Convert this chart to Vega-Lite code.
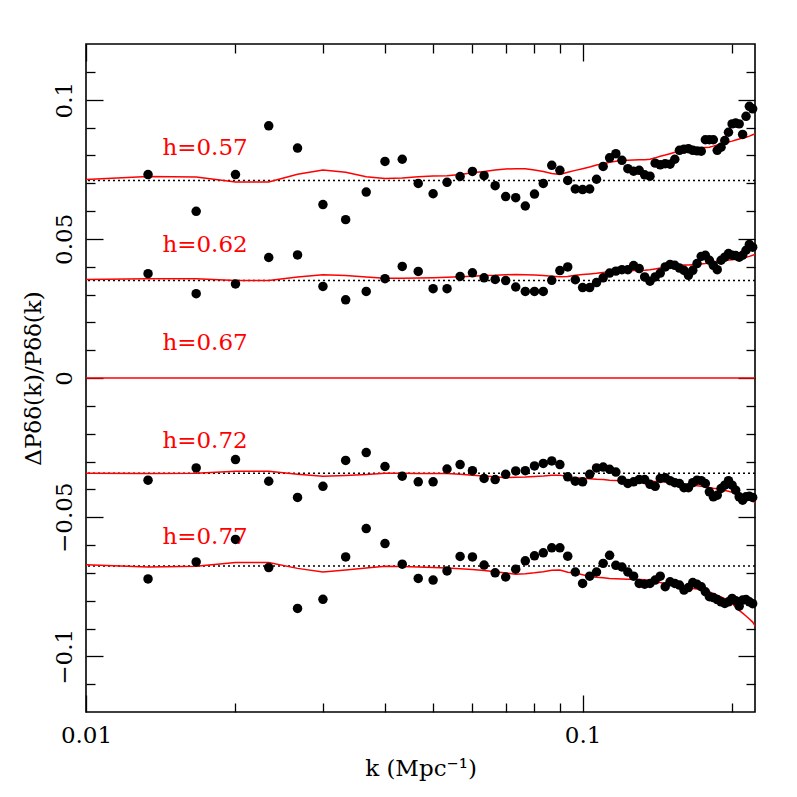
{
  "$schema": "https://vega.github.io/schema/vega-lite/v6.json",
  "width": 669,
  "height": 668,
  "autosize": {"type": "none"},
  "padding": {"left": 86, "top": 44, "right": 42, "bottom": 85},
  "background": "white",
  "config": {
    "view": {"stroke": "black", "strokeWidth": 1.6},
    "font": "DejaVu Serif",
    "axis": {"grid": false, "domain": false, "labelFont": "DejaVu Serif", "titleFont": "DejaVu Serif", "labelColor": "black", "titleColor": "black", "tickColor": "black", "labelFontSize": 23, "titleFontSize": 23, "titleFontWeight": "normal", "tickWidth": 1.3, "labelFlush": false, "labelOverlap": false, "labelBound": false}
  },
  "datasets": {
    "pts": [
      {"s":"0.57","k":0.013333,"v":0.0731},{"s":"0.57","k":0.016667,"v":0.0599},{"s":"0.57","k":0.02,"v":0.0731},{"s":"0.57","k":0.023333,"v":0.0906},{"s":"0.57","k":0.026667,"v":0.0826},{"s":"0.57","k":0.03,"v":0.0623},{"s":"0.57","k":0.033333,"v":0.0569},{"s":"0.57","k":0.036667,"v":0.0668},{"s":"0.57","k":0.04,"v":0.0778},{"s":"0.57","k":0.043333,"v":0.0786},{"s":"0.57","k":0.046667,"v":0.0699},{"s":"0.57","k":0.05,"v":0.0662},{"s":"0.57","k":0.053333,"v":0.0703},{"s":"0.57","k":0.056667,"v":0.0724},{"s":"0.57","k":0.06,"v":0.0742},{"s":"0.57","k":0.063333,"v":0.0727},{"s":"0.57","k":0.066667,"v":0.0691},{"s":"0.57","k":0.07,"v":0.0652},{"s":"0.57","k":0.073333,"v":0.0648},{"s":"0.57","k":0.076667,"v":0.0618},{"s":"0.57","k":0.08,"v":0.0661},{"s":"0.57","k":0.083333,"v":0.0699},{"s":"0.57","k":0.086667,"v":0.0764},{"s":"0.57","k":0.09,"v":0.0746},{"s":"0.57","k":0.093333,"v":0.071},{"s":"0.57","k":0.096667,"v":0.0679},{"s":"0.57","k":0.1,"v":0.0677},{"s":"0.57","k":0.103333,"v":0.0679},{"s":"0.57","k":0.106667,"v":0.0714},{"s":"0.57","k":0.11,"v":0.076},{"s":"0.57","k":0.113333,"v":0.0791},{"s":"0.57","k":0.116667,"v":0.0806},{"s":"0.57","k":0.12,"v":0.0782},{"s":"0.57","k":0.123333,"v":0.0752},{"s":"0.57","k":0.126667,"v":0.0743},{"s":"0.57","k":0.13,"v":0.0746},{"s":"0.57","k":0.133333,"v":0.073},{"s":"0.57","k":0.136667,"v":0.0725},{"s":"0.57","k":0.14,"v":0.0772},{"s":"0.57","k":0.143333,"v":0.0766},{"s":"0.57","k":0.146667,"v":0.077},{"s":"0.57","k":0.15,"v":0.0768},{"s":"0.57","k":0.153333,"v":0.0786},{"s":"0.57","k":0.156667,"v":0.0818},{"s":"0.57","k":0.16,"v":0.0822},{"s":"0.57","k":0.163333,"v":0.0824},{"s":"0.57","k":0.166667,"v":0.0818},{"s":"0.57","k":0.17,"v":0.0816},{"s":"0.57","k":0.173333,"v":0.0815},{"s":"0.57","k":0.176667,"v":0.0856},{"s":"0.57","k":0.18,"v":0.0856},{"s":"0.57","k":0.183333,"v":0.0856},{"s":"0.57","k":0.186667,"v":0.0818},{"s":"0.57","k":0.19,"v":0.0829},{"s":"0.57","k":0.193333,"v":0.0853},{"s":"0.57","k":0.196667,"v":0.0883},{"s":"0.57","k":0.2,"v":0.0913},{"s":"0.57","k":0.203333,"v":0.0916},{"s":"0.57","k":0.206667,"v":0.0913},{"s":"0.57","k":0.21,"v":0.0875},{"s":"0.57","k":0.213333,"v":0.094},{"s":"0.57","k":0.216667,"v":0.0976},{"s":"0.57","k":0.22,"v":0.0967},
      {"s":"0.62","k":0.013333,"v":0.0375},{"s":"0.62","k":0.016667,"v":0.0303},{"s":"0.62","k":0.02,"v":0.0338},{"s":"0.62","k":0.023333,"v":0.0433},{"s":"0.62","k":0.026667,"v":0.0442},{"s":"0.62","k":0.03,"v":0.0329},{"s":"0.62","k":0.033333,"v":0.0281},{"s":"0.62","k":0.036667,"v":0.0311},{"s":"0.62","k":0.04,"v":0.0357},{"s":"0.62","k":0.043333,"v":0.0401},{"s":"0.62","k":0.046667,"v":0.0383},{"s":"0.62","k":0.05,"v":0.0321},{"s":"0.62","k":0.053333,"v":0.0321},{"s":"0.62","k":0.056667,"v":0.0365},{"s":"0.62","k":0.06,"v":0.0378},{"s":"0.62","k":0.063333,"v":0.036},{"s":"0.62","k":0.066667,"v":0.0354},{"s":"0.62","k":0.07,"v":0.035},{"s":"0.62","k":0.073333,"v":0.0327},{"s":"0.62","k":0.076667,"v":0.0311},{"s":"0.62","k":0.08,"v":0.0311},{"s":"0.62","k":0.083333,"v":0.0311},{"s":"0.62","k":0.086667,"v":0.0351},{"s":"0.62","k":0.09,"v":0.0386},{"s":"0.62","k":0.093333,"v":0.0399},{"s":"0.62","k":0.096667,"v":0.0353},{"s":"0.62","k":0.1,"v":0.0325},{"s":"0.62","k":0.103333,"v":0.0325},{"s":"0.62","k":0.106667,"v":0.0343},{"s":"0.62","k":0.11,"v":0.036},{"s":"0.62","k":0.113333,"v":0.0377},{"s":"0.62","k":0.116667,"v":0.0384},{"s":"0.62","k":0.12,"v":0.0389},{"s":"0.62","k":0.123333,"v":0.0389},{"s":"0.62","k":0.126667,"v":0.0404},{"s":"0.62","k":0.13,"v":0.0393},{"s":"0.62","k":0.133333,"v":0.0363},{"s":"0.62","k":0.136667,"v":0.0348},{"s":"0.62","k":0.14,"v":0.0363},{"s":"0.62","k":0.143333,"v":0.0377},{"s":"0.62","k":0.146667,"v":0.0399},{"s":"0.62","k":0.15,"v":0.0408},{"s":"0.62","k":0.153333,"v":0.0405},{"s":"0.62","k":0.156667,"v":0.0395},{"s":"0.62","k":0.16,"v":0.0387},{"s":"0.62","k":0.163333,"v":0.0369},{"s":"0.62","k":0.166667,"v":0.0387},{"s":"0.62","k":0.17,"v":0.0411},{"s":"0.62","k":0.173333,"v":0.0437},{"s":"0.62","k":0.176667,"v":0.0441},{"s":"0.62","k":0.18,"v":0.0423},{"s":"0.62","k":0.183333,"v":0.0405},{"s":"0.62","k":0.186667,"v":0.0389},{"s":"0.62","k":0.19,"v":0.0423},{"s":"0.62","k":0.193333,"v":0.0434},{"s":"0.62","k":0.196667,"v":0.0447},{"s":"0.62","k":0.2,"v":0.0441},{"s":"0.62","k":0.203333,"v":0.044},{"s":"0.62","k":0.206667,"v":0.0434},{"s":"0.62","k":0.21,"v":0.0441},{"s":"0.62","k":0.213333,"v":0.0459},{"s":"0.62","k":0.216667,"v":0.048},{"s":"0.62","k":0.22,"v":0.047},
      {"s":"0.72","k":0.013333,"v":-0.0367},{"s":"0.72","k":0.016667,"v":-0.0323},{"s":"0.72","k":0.02,"v":-0.0293},{"s":"0.72","k":0.023333,"v":-0.0371},{"s":"0.72","k":0.026667,"v":-0.0429},{"s":"0.72","k":0.03,"v":-0.0389},{"s":"0.72","k":0.033333,"v":-0.0296},{"s":"0.72","k":0.036667,"v":-0.0268},{"s":"0.72","k":0.04,"v":-0.0318},{"s":"0.72","k":0.043333,"v":-0.0353},{"s":"0.72","k":0.046667,"v":-0.0373},{"s":"0.72","k":0.05,"v":-0.0373},{"s":"0.72","k":0.053333,"v":-0.0327},{"s":"0.72","k":0.056667,"v":-0.0311},{"s":"0.72","k":0.06,"v":-0.0333},{"s":"0.72","k":0.063333,"v":-0.0361},{"s":"0.72","k":0.066667,"v":-0.0365},{"s":"0.72","k":0.07,"v":-0.0346},{"s":"0.72","k":0.073333,"v":-0.0334},{"s":"0.72","k":0.076667,"v":-0.0333},{"s":"0.72","k":0.08,"v":-0.0316},{"s":"0.72","k":0.083333,"v":-0.0307},{"s":"0.72","k":0.086667,"v":-0.0298},{"s":"0.72","k":0.09,"v":-0.0311},{"s":"0.72","k":0.093333,"v":-0.0355},{"s":"0.72","k":0.096667,"v":-0.0371},{"s":"0.72","k":0.1,"v":-0.0373},{"s":"0.72","k":0.103333,"v":-0.0346},{"s":"0.72","k":0.106667,"v":-0.0323},{"s":"0.72","k":0.11,"v":-0.032},{"s":"0.72","k":0.113333,"v":-0.0328},{"s":"0.72","k":0.116667,"v":-0.0338},{"s":"0.72","k":0.12,"v":-0.0367},{"s":"0.72","k":0.123333,"v":-0.0379},{"s":"0.72","k":0.126667,"v":-0.0373},{"s":"0.72","k":0.13,"v":-0.0365},{"s":"0.72","k":0.133333,"v":-0.0365},{"s":"0.72","k":0.136667,"v":-0.0382},{"s":"0.72","k":0.14,"v":-0.0389},{"s":"0.72","k":0.143333,"v":-0.0361},{"s":"0.72","k":0.146667,"v":-0.0358},{"s":"0.72","k":0.15,"v":-0.0369},{"s":"0.72","k":0.153333,"v":-0.0376},{"s":"0.72","k":0.156667,"v":-0.0379},{"s":"0.72","k":0.16,"v":-0.0394},{"s":"0.72","k":0.163333,"v":-0.0394},{"s":"0.72","k":0.166667,"v":-0.0376},{"s":"0.72","k":0.17,"v":-0.0367},{"s":"0.72","k":0.173333,"v":-0.0369},{"s":"0.72","k":0.176667,"v":-0.0379},{"s":"0.72","k":0.18,"v":-0.0409},{"s":"0.72","k":0.183333,"v":-0.0427},{"s":"0.72","k":0.186667,"v":-0.0421},{"s":"0.72","k":0.19,"v":-0.0397},{"s":"0.72","k":0.193333,"v":-0.0385},{"s":"0.72","k":0.196667,"v":-0.0369},{"s":"0.72","k":0.2,"v":-0.0385},{"s":"0.72","k":0.203333,"v":-0.0403},{"s":"0.72","k":0.206667,"v":-0.0427},{"s":"0.72","k":0.21,"v":-0.0439},{"s":"0.72","k":0.213333,"v":-0.0427},{"s":"0.72","k":0.216667,"v":-0.0425},{"s":"0.72","k":0.22,"v":-0.0429},
      {"s":"0.77","k":0.013333,"v":-0.0722},{"s":"0.77","k":0.016667,"v":-0.0661},{"s":"0.77","k":0.02,"v":-0.058},{"s":"0.77","k":0.023333,"v":-0.0681},{"s":"0.77","k":0.026667,"v":-0.0828},{"s":"0.77","k":0.03,"v":-0.0795},{"s":"0.77","k":0.033333,"v":-0.0643},{"s":"0.77","k":0.036667,"v":-0.0541},{"s":"0.77","k":0.04,"v":-0.0595},{"s":"0.77","k":0.043333,"v":-0.0669},{"s":"0.77","k":0.046667,"v":-0.072},{"s":"0.77","k":0.05,"v":-0.0726},{"s":"0.77","k":0.053333,"v":-0.0693},{"s":"0.77","k":0.056667,"v":-0.0641},{"s":"0.77","k":0.06,"v":-0.0643},{"s":"0.77","k":0.063333,"v":-0.0672},{"s":"0.77","k":0.066667,"v":-0.07},{"s":"0.77","k":0.07,"v":-0.0715},{"s":"0.77","k":0.073333,"v":-0.0687},{"s":"0.77","k":0.076667,"v":-0.0657},{"s":"0.77","k":0.08,"v":-0.0639},{"s":"0.77","k":0.083333,"v":-0.0628},{"s":"0.77","k":0.086667,"v":-0.061},{"s":"0.77","k":0.09,"v":-0.061},{"s":"0.77","k":0.093333,"v":-0.064},{"s":"0.77","k":0.096667,"v":-0.0697},{"s":"0.77","k":0.1,"v":-0.0738},{"s":"0.77","k":0.103333,"v":-0.0712},{"s":"0.77","k":0.106667,"v":-0.0697},{"s":"0.77","k":0.11,"v":-0.0666},{"s":"0.77","k":0.113333,"v":-0.0637},{"s":"0.77","k":0.116667,"v":-0.0673},{"s":"0.77","k":0.12,"v":-0.0679},{"s":"0.77","k":0.123333,"v":-0.0697},{"s":"0.77","k":0.126667,"v":-0.0712},{"s":"0.77","k":0.13,"v":-0.0738},{"s":"0.77","k":0.133333,"v":-0.0741},{"s":"0.77","k":0.136667,"v":-0.0738},{"s":"0.77","k":0.14,"v":-0.0726},{"s":"0.77","k":0.143333,"v":-0.0712},{"s":"0.77","k":0.146667,"v":-0.075},{"s":"0.77","k":0.15,"v":-0.0732},{"s":"0.77","k":0.153333,"v":-0.0738},{"s":"0.77","k":0.156667,"v":-0.0744},{"s":"0.77","k":0.16,"v":-0.0762},{"s":"0.77","k":0.163333,"v":-0.0753},{"s":"0.77","k":0.166667,"v":-0.0735},{"s":"0.77","k":0.17,"v":-0.0741},{"s":"0.77","k":0.173333,"v":-0.075},{"s":"0.77","k":0.176667,"v":-0.0768},{"s":"0.77","k":0.18,"v":-0.0786},{"s":"0.77","k":0.183333,"v":-0.0789},{"s":"0.77","k":0.186667,"v":-0.0796},{"s":"0.77","k":0.19,"v":-0.0804},{"s":"0.77","k":0.193333,"v":-0.081},{"s":"0.77","k":0.196667,"v":-0.0804},{"s":"0.77","k":0.2,"v":-0.0792},{"s":"0.77","k":0.203333,"v":-0.08},{"s":"0.77","k":0.206667,"v":-0.082},{"s":"0.77","k":0.21,"v":-0.0798},{"s":"0.77","k":0.213333,"v":-0.0796},{"s":"0.77","k":0.216667,"v":-0.0804},{"s":"0.77","k":0.22,"v":-0.0811}
    ],
    "model": [
      {"s":"0.57","k":0.01,"v":0.0713},{"s":"0.57","k":0.013333,"v":0.0724},{"s":"0.57","k":0.016667,"v":0.0722},{"s":"0.57","k":0.02,"v":0.0704},{"s":"0.57","k":0.023333,"v":0.0704},{"s":"0.57","k":0.026667,"v":0.0732},{"s":"0.57","k":0.03,"v":0.0747},{"s":"0.57","k":0.033333,"v":0.0739},{"s":"0.57","k":0.036667,"v":0.0723},{"s":"0.57","k":0.04,"v":0.0717},{"s":"0.57","k":0.043333,"v":0.0719},{"s":"0.57","k":0.046667,"v":0.0723},{"s":"0.57","k":0.05,"v":0.0726},{"s":"0.57","k":0.053333,"v":0.0727},{"s":"0.57","k":0.056667,"v":0.0731},{"s":"0.57","k":0.06,"v":0.0737},{"s":"0.57","k":0.063333,"v":0.0742},{"s":"0.57","k":0.066667,"v":0.0747},{"s":"0.57","k":0.07,"v":0.0751},{"s":"0.57","k":0.073333,"v":0.0752},{"s":"0.57","k":0.076667,"v":0.0752},{"s":"0.57","k":0.08,"v":0.0747},{"s":"0.57","k":0.083333,"v":0.0742},{"s":"0.57","k":0.086667,"v":0.0735},{"s":"0.57","k":0.09,"v":0.0731},{"s":"0.57","k":0.093333,"v":0.0739},{"s":"0.57","k":0.096667,"v":0.0746},{"s":"0.57","k":0.1,"v":0.0752},{"s":"0.57","k":0.103333,"v":0.0758},{"s":"0.57","k":0.106667,"v":0.0765},{"s":"0.57","k":0.11,"v":0.0769},{"s":"0.57","k":0.113333,"v":0.0775},{"s":"0.57","k":0.116667,"v":0.0779},{"s":"0.57","k":0.12,"v":0.0781},{"s":"0.57","k":0.123333,"v":0.0782},{"s":"0.57","k":0.126667,"v":0.0783},{"s":"0.57","k":0.13,"v":0.0784},{"s":"0.57","k":0.133333,"v":0.0784},{"s":"0.57","k":0.136667,"v":0.0786},{"s":"0.57","k":0.14,"v":0.0791},{"s":"0.57","k":0.143333,"v":0.0797},{"s":"0.57","k":0.146667,"v":0.0801},{"s":"0.57","k":0.15,"v":0.0806},{"s":"0.57","k":0.153333,"v":0.0811},{"s":"0.57","k":0.156667,"v":0.0815},{"s":"0.57","k":0.16,"v":0.0819},{"s":"0.57","k":0.163333,"v":0.0822},{"s":"0.57","k":0.166667,"v":0.0824},{"s":"0.57","k":0.17,"v":0.0825},{"s":"0.57","k":0.173333,"v":0.0827},{"s":"0.57","k":0.176667,"v":0.0828},{"s":"0.57","k":0.18,"v":0.0829},{"s":"0.57","k":0.183333,"v":0.0833},{"s":"0.57","k":0.186667,"v":0.0837},{"s":"0.57","k":0.19,"v":0.0841},{"s":"0.57","k":0.193333,"v":0.0845},{"s":"0.57","k":0.196667,"v":0.0848},{"s":"0.57","k":0.2,"v":0.0851},{"s":"0.57","k":0.203333,"v":0.0855},{"s":"0.57","k":0.206667,"v":0.0859},{"s":"0.57","k":0.21,"v":0.0862},{"s":"0.57","k":0.213333,"v":0.0865},{"s":"0.57","k":0.216667,"v":0.0869},{"s":"0.57","k":0.22,"v":0.0874},{"s":"0.57","k":0.223333,"v":0.0879},
      {"s":"0.62","k":0.01,"v":0.0354},{"s":"0.62","k":0.013333,"v":0.0357},{"s":"0.62","k":0.016667,"v":0.0357},{"s":"0.62","k":0.02,"v":0.035},{"s":"0.62","k":0.023333,"v":0.035},{"s":"0.62","k":0.026667,"v":0.0363},{"s":"0.62","k":0.03,"v":0.0371},{"s":"0.62","k":0.033333,"v":0.0368},{"s":"0.62","k":0.036667,"v":0.0363},{"s":"0.62","k":0.04,"v":0.0358},{"s":"0.62","k":0.043333,"v":0.0358},{"s":"0.62","k":0.046667,"v":0.0359},{"s":"0.62","k":0.05,"v":0.036},{"s":"0.62","k":0.053333,"v":0.0362},{"s":"0.62","k":0.056667,"v":0.0364},{"s":"0.62","k":0.06,"v":0.0366},{"s":"0.62","k":0.063333,"v":0.0368},{"s":"0.62","k":0.066667,"v":0.0369},{"s":"0.62","k":0.07,"v":0.0371},{"s":"0.62","k":0.073333,"v":0.0372},{"s":"0.62","k":0.076667,"v":0.0371},{"s":"0.62","k":0.08,"v":0.037},{"s":"0.62","k":0.083333,"v":0.0368},{"s":"0.62","k":0.086667,"v":0.0366},{"s":"0.62","k":0.09,"v":0.0364},{"s":"0.62","k":0.093333,"v":0.0365},{"s":"0.62","k":0.096667,"v":0.0369},{"s":"0.62","k":0.1,"v":0.0372},{"s":"0.62","k":0.103333,"v":0.0374},{"s":"0.62","k":0.106667,"v":0.0376},{"s":"0.62","k":0.11,"v":0.0379},{"s":"0.62","k":0.113333,"v":0.0382},{"s":"0.62","k":0.116667,"v":0.0384},{"s":"0.62","k":0.12,"v":0.0385},{"s":"0.62","k":0.123333,"v":0.0385},{"s":"0.62","k":0.126667,"v":0.0386},{"s":"0.62","k":0.13,"v":0.0386},{"s":"0.62","k":0.133333,"v":0.0387},{"s":"0.62","k":0.136667,"v":0.0389},{"s":"0.62","k":0.14,"v":0.0392},{"s":"0.62","k":0.143333,"v":0.0395},{"s":"0.62","k":0.146667,"v":0.0398},{"s":"0.62","k":0.15,"v":0.0401},{"s":"0.62","k":0.153333,"v":0.0404},{"s":"0.62","k":0.156667,"v":0.0405},{"s":"0.62","k":0.16,"v":0.0406},{"s":"0.62","k":0.163333,"v":0.0406},{"s":"0.62","k":0.166667,"v":0.0407},{"s":"0.62","k":0.17,"v":0.0408},{"s":"0.62","k":0.173333,"v":0.041},{"s":"0.62","k":0.176667,"v":0.0411},{"s":"0.62","k":0.18,"v":0.0413},{"s":"0.62","k":0.183333,"v":0.0415},{"s":"0.62","k":0.186667,"v":0.0418},{"s":"0.62","k":0.19,"v":0.042},{"s":"0.62","k":0.193333,"v":0.0422},{"s":"0.62","k":0.196667,"v":0.0424},{"s":"0.62","k":0.2,"v":0.0425},{"s":"0.62","k":0.203333,"v":0.0427},{"s":"0.62","k":0.206667,"v":0.0429},{"s":"0.62","k":0.21,"v":0.0431},{"s":"0.62","k":0.213333,"v":0.0434},{"s":"0.62","k":0.216667,"v":0.0437},{"s":"0.62","k":0.22,"v":0.0441},{"s":"0.62","k":0.223333,"v":0.0445},
      {"s":"0.67","k":0.01,"v":0},{"s":"0.67","k":0.223333,"v":0},
      {"s":"0.72","k":0.01,"v":-0.0342},{"s":"0.72","k":0.013333,"v":-0.0343},{"s":"0.72","k":0.016667,"v":-0.0342},{"s":"0.72","k":0.02,"v":-0.0335},{"s":"0.72","k":0.023333,"v":-0.0335},{"s":"0.72","k":0.026667,"v":-0.0346},{"s":"0.72","k":0.03,"v":-0.0353},{"s":"0.72","k":0.033333,"v":-0.035},{"s":"0.72","k":0.036667,"v":-0.0347},{"s":"0.72","k":0.04,"v":-0.0342},{"s":"0.72","k":0.043333,"v":-0.0342},{"s":"0.72","k":0.046667,"v":-0.0343},{"s":"0.72","k":0.05,"v":-0.0343},{"s":"0.72","k":0.053333,"v":-0.0343},{"s":"0.72","k":0.056667,"v":-0.0346},{"s":"0.72","k":0.06,"v":-0.0349},{"s":"0.72","k":0.063333,"v":-0.0352},{"s":"0.72","k":0.066667,"v":-0.0355},{"s":"0.72","k":0.07,"v":-0.0358},{"s":"0.72","k":0.073333,"v":-0.0357},{"s":"0.72","k":0.076667,"v":-0.0356},{"s":"0.72","k":0.08,"v":-0.0354},{"s":"0.72","k":0.083333,"v":-0.0352},{"s":"0.72","k":0.086667,"v":-0.0349},{"s":"0.72","k":0.09,"v":-0.0349},{"s":"0.72","k":0.093333,"v":-0.0355},{"s":"0.72","k":0.096667,"v":-0.0358},{"s":"0.72","k":0.1,"v":-0.036},{"s":"0.72","k":0.103333,"v":-0.0362},{"s":"0.72","k":0.106667,"v":-0.0364},{"s":"0.72","k":0.11,"v":-0.0365},{"s":"0.72","k":0.113333,"v":-0.0367},{"s":"0.72","k":0.116667,"v":-0.0368},{"s":"0.72","k":0.12,"v":-0.0369},{"s":"0.72","k":0.123333,"v":-0.037},{"s":"0.72","k":0.126667,"v":-0.037},{"s":"0.72","k":0.13,"v":-0.037},{"s":"0.72","k":0.133333,"v":-0.037},{"s":"0.72","k":0.136667,"v":-0.0371},{"s":"0.72","k":0.14,"v":-0.0372},{"s":"0.72","k":0.143333,"v":-0.0373},{"s":"0.72","k":0.146667,"v":-0.0374},{"s":"0.72","k":0.15,"v":-0.0376},{"s":"0.72","k":0.153333,"v":-0.0379},{"s":"0.72","k":0.156667,"v":-0.0381},{"s":"0.72","k":0.16,"v":-0.0383},{"s":"0.72","k":0.163333,"v":-0.0384},{"s":"0.72","k":0.166667,"v":-0.0385},{"s":"0.72","k":0.17,"v":-0.0387},{"s":"0.72","k":0.173333,"v":-0.0389},{"s":"0.72","k":0.176667,"v":-0.0391},{"s":"0.72","k":0.18,"v":-0.0393},{"s":"0.72","k":0.183333,"v":-0.0396},{"s":"0.72","k":0.186667,"v":-0.0398},{"s":"0.72","k":0.19,"v":-0.0401},{"s":"0.72","k":0.193333,"v":-0.0404},{"s":"0.72","k":0.196667,"v":-0.0407},{"s":"0.72","k":0.2,"v":-0.0411},{"s":"0.72","k":0.203333,"v":-0.0416},{"s":"0.72","k":0.206667,"v":-0.0421},{"s":"0.72","k":0.21,"v":-0.0425},{"s":"0.72","k":0.213333,"v":-0.043},{"s":"0.72","k":0.216667,"v":-0.0436},{"s":"0.72","k":0.22,"v":-0.0442},{"s":"0.72","k":0.223333,"v":-0.045},
      {"s":"0.77","k":0.01,"v":-0.0671},{"s":"0.77","k":0.013333,"v":-0.0679},{"s":"0.77","k":0.016667,"v":-0.0676},{"s":"0.77","k":0.02,"v":-0.0663},{"s":"0.77","k":0.023333,"v":-0.0663},{"s":"0.77","k":0.026667,"v":-0.0684},{"s":"0.77","k":0.03,"v":-0.0697},{"s":"0.77","k":0.033333,"v":-0.069},{"s":"0.77","k":0.036667,"v":-0.0683},{"s":"0.77","k":0.04,"v":-0.0676},{"s":"0.77","k":0.043333,"v":-0.0677},{"s":"0.77","k":0.046667,"v":-0.0679},{"s":"0.77","k":0.05,"v":-0.0681},{"s":"0.77","k":0.053333,"v":-0.0683},{"s":"0.77","k":0.056667,"v":-0.0685},{"s":"0.77","k":0.06,"v":-0.0688},{"s":"0.77","k":0.063333,"v":-0.0692},{"s":"0.77","k":0.066667,"v":-0.0696},{"s":"0.77","k":0.07,"v":-0.0701},{"s":"0.77","k":0.073333,"v":-0.0705},{"s":"0.77","k":0.076667,"v":-0.0703},{"s":"0.77","k":0.08,"v":-0.07},{"s":"0.77","k":0.083333,"v":-0.0696},{"s":"0.77","k":0.086667,"v":-0.0691},{"s":"0.77","k":0.09,"v":-0.069},{"s":"0.77","k":0.093333,"v":-0.0698},{"s":"0.77","k":0.096667,"v":-0.0701},{"s":"0.77","k":0.1,"v":-0.0707},{"s":"0.77","k":0.103333,"v":-0.0713},{"s":"0.77","k":0.106667,"v":-0.0716},{"s":"0.77","k":0.11,"v":-0.0718},{"s":"0.77","k":0.113333,"v":-0.072},{"s":"0.77","k":0.116667,"v":-0.0721},{"s":"0.77","k":0.12,"v":-0.0722},{"s":"0.77","k":0.123333,"v":-0.0723},{"s":"0.77","k":0.126667,"v":-0.0723},{"s":"0.77","k":0.13,"v":-0.0724},{"s":"0.77","k":0.133333,"v":-0.0725},{"s":"0.77","k":0.136667,"v":-0.0728},{"s":"0.77","k":0.14,"v":-0.0732},{"s":"0.77","k":0.143333,"v":-0.0735},{"s":"0.77","k":0.146667,"v":-0.0739},{"s":"0.77","k":0.15,"v":-0.0742},{"s":"0.77","k":0.153333,"v":-0.0746},{"s":"0.77","k":0.156667,"v":-0.0749},{"s":"0.77","k":0.16,"v":-0.0751},{"s":"0.77","k":0.163333,"v":-0.0754},{"s":"0.77","k":0.166667,"v":-0.0756},{"s":"0.77","k":0.17,"v":-0.0758},{"s":"0.77","k":0.173333,"v":-0.0759},{"s":"0.77","k":0.176667,"v":-0.0761},{"s":"0.77","k":0.18,"v":-0.0768},{"s":"0.77","k":0.183333,"v":-0.0775},{"s":"0.77","k":0.186667,"v":-0.0781},{"s":"0.77","k":0.19,"v":-0.0787},{"s":"0.77","k":0.193333,"v":-0.0793},{"s":"0.77","k":0.196667,"v":-0.0801},{"s":"0.77","k":0.2,"v":-0.081},{"s":"0.77","k":0.203333,"v":-0.0823},{"s":"0.77","k":0.206667,"v":-0.0835},{"s":"0.77","k":0.21,"v":-0.0845},{"s":"0.77","k":0.213333,"v":-0.0855},{"s":"0.77","k":0.216667,"v":-0.0866},{"s":"0.77","k":0.22,"v":-0.0877},{"s":"0.77","k":0.223333,"v":-0.0895}
    ],
    "base": [{"s":"0.57","v":0.071},{"s":"0.62","v":0.035},{"s":"0.72","v":-0.0342},{"s":"0.77","v":-0.0675}],
    "labels": [
      {"t":"h=0.57","k":0.01425,"v":0.08},
      {"t":"h=0.62","k":0.01425,"v":0.0452},
      {"t":"h=0.67","k":0.01425,"v":0.0101},
      {"t":"h=0.72","k":0.01425,"v":-0.0251},
      {"t":"h=0.77","k":0.01425,"v":-0.0598}
    ]
  },
  "resolve": {"axis": {"x": "independent", "y": "independent"}},
  "layer": [
    {
      "data": {"name": "base"},
      "mark": {"type": "rule", "strokeDash": [2, 3], "strokeWidth": 1.5, "color": "black"},
      "encoding": {
        "y": {"field": "v", "type": "quantitative", "scale": {"domain": [-0.12, 0.12], "nice": false, "zero": false}, "axis": null}
      }
    },
    {
      "data": {"name": "model"},
      "mark": {"type": "line", "color": "#ff0000", "strokeWidth": 1.5, "clip": true},
      "encoding": {
        "x": {"field": "k", "type": "quantitative", "scale": {"type": "log", "domain": [0.01, 0.2224], "nice": false},
              "axis": {"orient": "bottom", "values": [0.01, 0.1], "ticks": false, "format": "~g", "labelPadding": 12, "labelAlign": "center", "title": "k (Mpc⁻¹)", "titlePadding": 10}},
        "y": {"field": "v", "type": "quantitative", "scale": {"domain": [-0.12, 0.12], "nice": false, "zero": false},
              "axis": {"orient": "left", "values": [-0.1, -0.05, 0, 0.05, 0.1], "ticks": false, "format": "~g", "labelAngle": -90, "labelAlign": "center", "labelBaseline": "alphabetic", "labelPadding": 15, "title": "ΔPδδ(k)/Pδδ(k)", "titlePadding": 8}},
        "detail": {"field": "s", "type": "nominal"}
      }
    },
    {
      "data": {"name": "pts"},
      "mark": {"type": "circle", "size": 90, "color": "black", "opacity": 1},
      "encoding": {
        "x": {"field": "k", "type": "quantitative", "scale": {"type": "log", "domain": [0.01, 0.2224], "nice": false},
              "axis": {"orient": "bottom", "values": [0.01, 0.02, 0.03, 0.04, 0.05, 0.06, 0.07, 0.08, 0.09, 0.1, 0.2], "labels": false, "title": null,
                       "tickSize": {"condition": {"test": "datum.value == 0.01 || datum.value == 0.1", "value": -17}, "value": -9}}},
        "y": {"field": "v", "type": "quantitative", "scale": {"domain": [-0.12, 0.12], "nice": false, "zero": false},
              "axis": {"orient": "left", "values": [-0.11, -0.1, -0.09, -0.08, -0.07, -0.06, -0.05, -0.04, -0.03, -0.02, -0.01, 0, 0.01, 0.02, 0.03, 0.04, 0.05, 0.06, 0.07, 0.08, 0.09, 0.1, 0.11], "labels": false, "title": null,
                       "tickSize": {"condition": {"test": "abs(datum.value) < 1e-9 || abs(abs(datum.value) - 0.05) < 1e-9 || abs(abs(datum.value) - 0.1) < 1e-9", "value": -17}, "value": -9}}}
      }
    },
    {
      "data": {"name": "labels"},
      "mark": {"type": "text", "align": "left", "baseline": "alphabetic", "color": "#ff0000", "font": "DejaVu Serif", "fontSize": 23},
      "encoding": {
        "x": {"field": "k", "type": "quantitative", "scale": {"type": "log", "domain": [0.01, 0.2224], "nice": false},
              "axis": {"orient": "top", "values": [0.01, 0.02, 0.03, 0.04, 0.05, 0.06, 0.07, 0.08, 0.09, 0.1, 0.2], "labels": false, "title": null,
                       "tickSize": {"condition": {"test": "datum.value == 0.01 || datum.value == 0.1", "value": -17}, "value": -9}}},
        "y": {"field": "v", "type": "quantitative", "scale": {"domain": [-0.12, 0.12], "nice": false, "zero": false},
              "axis": {"orient": "right", "values": [-0.11, -0.1, -0.09, -0.08, -0.07, -0.06, -0.05, -0.04, -0.03, -0.02, -0.01, 0, 0.01, 0.02, 0.03, 0.04, 0.05, 0.06, 0.07, 0.08, 0.09, 0.1, 0.11], "labels": false, "title": null,
                       "tickSize": {"condition": {"test": "abs(datum.value) < 1e-9 || abs(abs(datum.value) - 0.05) < 1e-9 || abs(abs(datum.value) - 0.1) < 1e-9", "value": -17}, "value": -9}}},
        "text": {"field": "t", "type": "nominal"}
      }
    }
  ]
}
